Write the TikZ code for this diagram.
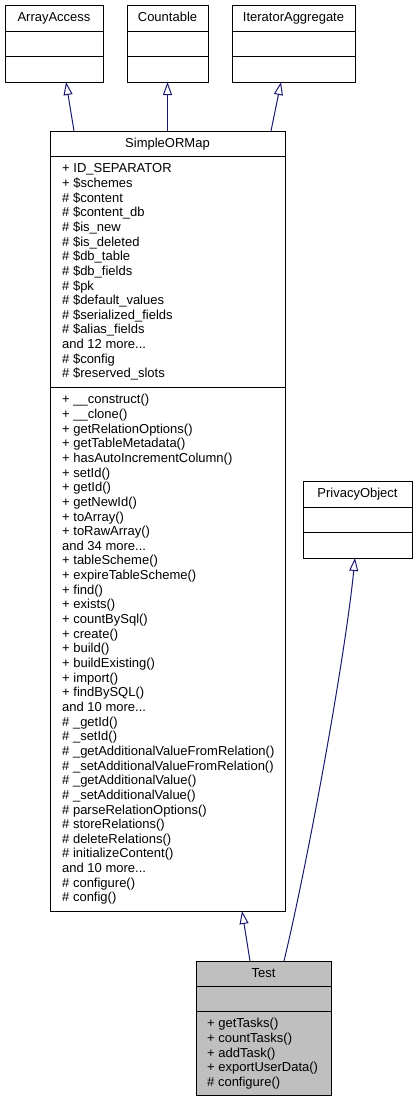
\documentclass[tikz,border=0pt]{standalone}
\usepackage{fontspec}
\setmainfont{Liberation Sans}
\usetikzlibrary{arrows.meta}
\definecolor{edgeblue}{HTML}{191970}
\definecolor{focusgrey}{HTML}{BFBFBF}
\newcommand\mydots{...}
\tikzset{
  member/.style={inner sep=0pt, anchor=base west, font=\fontsize{13}{14.65}\selectfont},
  ctitle/.style={inner sep=0pt, anchor=base, font=\fontsize{13}{14.65}\selectfont},
  classbox/.style={draw=black, line width=1pt, inner sep=0pt, outer sep=0pt, anchor=north west, fill=white},
  divider/.style={draw=black, line width=1pt},
  inherit/.style={draw=edgeblue, line width=1pt, -{Triangle[open, length=13pt, width=9pt]}},
}
\begin{document}
\begin{tikzpicture}[x=1pt, y=-1pt]
\useasboundingbox (0,0) rectangle (418,1101);
% ---- boxes
\node[classbox, minimum width=98pt, minimum height=77pt] (aa) at (5,5) {};
\node[classbox, minimum width=81pt, minimum height=77pt] (cnt) at (127,5) {};
\node[classbox, minimum width=123pt, minimum height=77pt] (ia) at (232,5) {};
\node[classbox, minimum width=235pt, minimum height=780pt] (sorm) at (50,131) {};
\node[classbox, minimum width=109pt, minimum height=77pt] (po) at (303,481) {};
\node[classbox, fill=focusgrey, minimum width=135pt, minimum height=134pt] (test) at (196,961) {};
% ---- dividers
\foreach \b in {aa,cnt,ia,po}{
  \draw[divider] ([yshift=-26.5pt]\b.north west) -- ([yshift=-26.5pt]\b.north east);
  \draw[divider] ([yshift=-51.5pt]\b.north west) -- ([yshift=-51.5pt]\b.north east);
}
\draw[divider] ([yshift=-25pt]sorm.north west) -- ([yshift=-25pt]sorm.north east);
\draw[divider] ([yshift=-256pt]sorm.north west) -- ([yshift=-256pt]sorm.north east);
\draw[divider] ([yshift=-25pt]test.north west) -- ([yshift=-25pt]test.north east);
\draw[divider] ([yshift=-50pt]test.north west) -- ([yshift=-50pt]test.north east);
% ---- titles
\node[ctitle] (taa) at (54,21.8) {ArrayAccess};
\node[ctitle] (tcnt) at (167.5,21.8) {Countable};
\node[ctitle] (tia) at (293.5,21.8) {IteratorAggregate};
\node[ctitle] (tsorm) at (167.5,147.6) {SimpleORMap};
\node[ctitle] (tpo) at (357.5,497.6) {PrivacyObject};
\node[ctitle] (ttest) at (263.5,977.4) {Test};
% ---- SimpleORMap attributes
\foreach \t [count=\i from 0] in {+ ID\_SEPARATOR, + \$schemes, \# \$content, \# \$content\_db,
  \# \$is\_new, \# \$is\_deleted, \# \$db\_table, \# \$db\_fields, \# \$pk, \# \$default\_values,
  \# \$serialized\_fields, \# \$alias\_fields, and 12 more\mydots, \# \$config, \# \$reserved\_slots}
  \node[member] (sa\i) at (62, {172.8+14.65*\i}) {\t};
% ---- SimpleORMap methods
\foreach \t [count=\i from 0] in {+ \_\_construct(), + \_\_clone(), + getRelationOptions(),
  + getTableMetadata(), + hasAutoIncrementColumn(), + setId(), + getId(), + getNewId(),
  + toArray(), + toRawArray(), and 34 more\mydots, + tableScheme(), + expireTableScheme(),
  + find(), + exists(), + countBySql(), + create(), + build(), + buildExisting(), + import(),
  + findBySQL(), and 10 more\mydots, \# \_getId(), \# \_setId(), \# \_getAdditionalValueFromRelation(),
  \# \_setAdditionalValueFromRelation(), \# \_getAdditionalValue(), \# \_setAdditionalValue(),
  \# parseRelationOptions(), \# storeRelations(), \# deleteRelations(), \# initializeContent(),
  and 10 more\mydots, \# configure(), \# config()}
  \node[member] (sm\i) at (62, {403.8+14.65*\i}) {\t};
% ---- Test methods
\foreach \t [count=\i from 0] in {+ getTasks(), + countTasks(), + addTask(), + exportUserData(), \# configure()}
  \node[member] (tm\i) at (207, {1027.8+14.65*\i}) {\t};
% ---- inheritance edges
\draw[inherit] ([xshift=-93.5pt]sorm.north) -- ([xshift=12pt]aa.south);
\draw[inherit] (sorm.north) -- (cnt.south);
\draw[inherit] ([xshift=103.5pt]sorm.north) -- ([xshift=-12.5pt]ia.south);
\draw[inherit] ([xshift=-13.5pt]test.north) -- ([xshift=74.5pt]sorm.south);
\draw[inherit] ([xshift=20.5pt]test.north) .. controls +(24,-100) and +(-10,100) .. ([xshift=-2.5pt]po.south);
\end{tikzpicture}
\end{document}
